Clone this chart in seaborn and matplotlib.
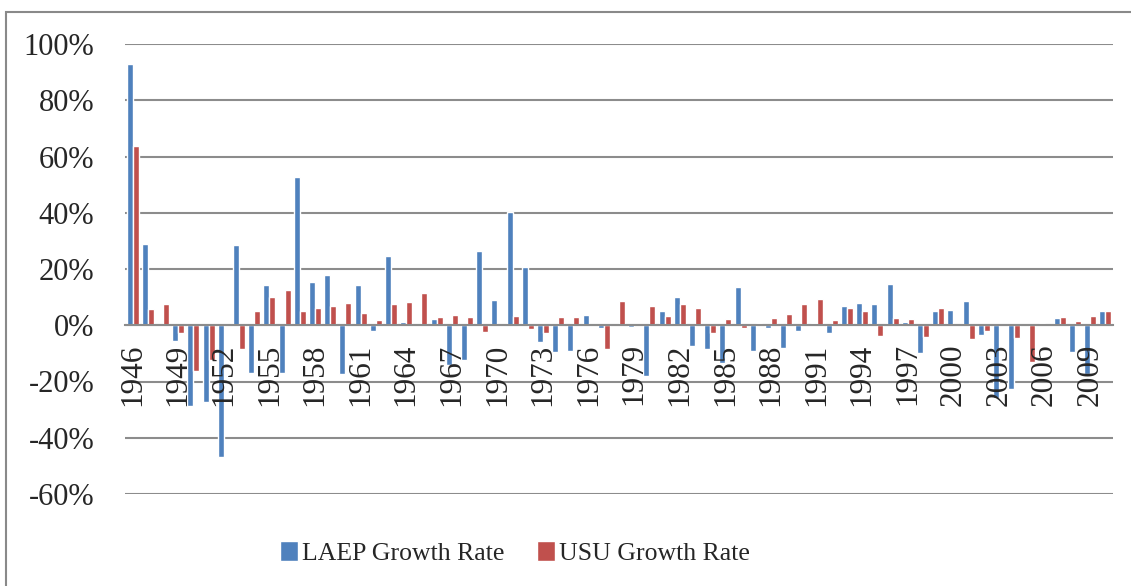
import numpy as np
import pandas as pd
import matplotlib
matplotlib.use("Agg")
import matplotlib.pyplot as plt
from matplotlib.patches import Rectangle
from matplotlib.ticker import FuncFormatter
import seaborn as sns

# ========== data (growth rates in %) ==========
years = list(range(1946, 2011))

laep_growth = [
    92.9, 28.9, 0.0, -5.6, -28.8, -27.4, -46.9, 28.5, -16.9, 14.2,
    -16.9, 52.6, 15.5, 18.0, -17.3, 14.4, -2.0, 24.8, 1.0, 0.0,
    2.3, -14.0, -12.4, 26.4, 8.9, 40.4, 20.8, -6.0, -9.6, -9.0,
    3.7, -1.0, 0.0, -0.7, -18.1, 5.1, 10.0, -7.3, -8.6, -13.5,
    13.7, -9.3, -1.0, -8.1, -1.9, 0.8, -2.9, 6.9, 8.0, 7.4,
    14.6, 1.2, -9.8, 5.2, 5.6, 8.5, -3.6, -26.0, -22.5, 0.0,
    0.8, 2.5, -9.5, -17.4, 5.2,
]

usu_growth = [
    63.7, 5.8, 7.5, -2.6, -16.1, -12.4, 0.0, -8.6, 5.1, 10.1,
    12.5, 5.1, 6.2, 7.0, 8.0, 4.3, 1.9, 7.7, 8.1, 11.4,
    3.1, 3.6, 2.9, -2.3, 0.0, 3.2, -1.3, -2.7, 2.9, 3.1,
    0.0, -8.3, 8.5, 0.3, 6.7, 3.3, 7.4, 6.2, -2.9, 2.1,
    -1.1, 0.8, 2.7, 4.0, 7.7, 9.2, 1.9, 6.0, 5.1, -3.7,
    2.7, 2.3, -4.3, 6.3, 0.0, -5.0, -1.9, 0.0, -4.4, -12.9,
    0.3, 3.0, 1.4, 3.3, 4.9,
]

series_names = ["LAEP Growth Rate", "USU Growth Rate"]
colors = ["#4F81BD", "#C0504D"]
y_ticks = [-60, -40, -20, 0, 20, 40, 60, 80, 100]

# long format for seaborn
df = pd.DataFrame({
    "year": [str(y) for y in years] * 2,
    "rate": laep_growth + usu_growth,
    "series": [series_names[0]] * len(years) + [series_names[1]] * len(years),
})

# ========== plot ==========
sns.set_style("white")
plt.rcParams["font.family"] = ["Liberation Serif", "DejaVu Serif"]
plt.rcParams["axes.unicode_minus"] = False

fig = plt.figure(figsize=(11.31, 5.86), dpi=100)
ax = fig.add_axes([125 / 1131, 1 - 494 / 586, 988 / 1131, 450 / 586])

sns.barplot(data=df, x="year", y="rate", hue="series", order=[str(y) for y in years],
            hue_order=series_names, palette=colors, width=0.8, saturation=1,
            ax=ax, legend=True)

# spine position first: it resets the tick objects
for side in ["left", "right", "top"]:
    ax.spines[side].set_visible(False)
ax.spines["bottom"].set_position(("data", 0))
ax.spines["bottom"].set_color("#8c8c8c")
ax.spines["bottom"].set_linewidth(1.5)

ax.set_ylim(-60, 100)
ax.set_xlim(-0.5, len(years) - 0.5)
ax.set_yticks(y_ticks)
ax.yaxis.set_major_formatter(FuncFormatter(lambda v, p: f"{v:.0f}%"))
ax.grid(axis="y", color="#8c8c8c", linewidth=1.5)
ax.set_axisbelow(True)
ax.xaxis.set_zorder(3)  # year labels sit on top of the bars

# year labels every 3 years, hanging below the zero line
tick_idx = list(range(0, len(years), 3))
ax.set_xticks(tick_idx)
ax.set_xticklabels([str(years[i]) for i in tick_idx])
ax.tick_params(axis="x", length=0, pad=13, labelsize=22.5, labelrotation=90)
ax.tick_params(axis="y", length=0, pad=22, labelsize=22)
ax.set_xlabel("")
ax.set_ylabel("")

# legend at the bottom
handles, labels = ax.get_legend_handles_labels()
ax.legend_.remove()
fig.legend(handles, labels, loc="center", bbox_to_anchor=(515 / 1131, 1 - 553 / 586),
           ncol=2, frameon=False, fontsize=18.5, handlelength=0.7, handleheight=0.85,
           handletextpad=0.15, columnspacing=1.3)

# chart-area border
fig.patches.append(Rectangle((6 / 1131, -0.01), 1.02, 1 - 12 / 586 + 0.01,
                             transform=fig.transFigure, fill=False,
                             edgecolor="#898989", linewidth=1.5))

fig.savefig("out.png", dpi=100)
plt.close(fig)
